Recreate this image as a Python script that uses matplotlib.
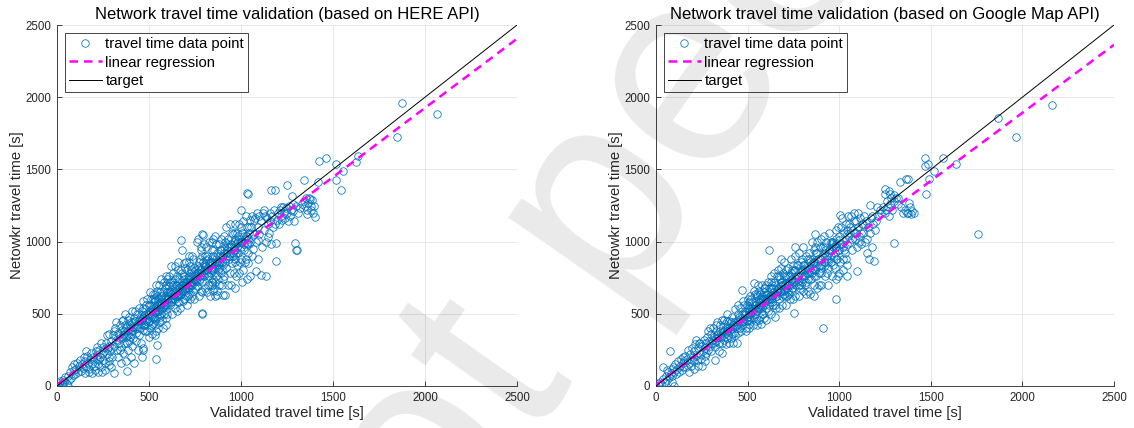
import matplotlib
matplotlib.use("Agg")
import matplotlib.pyplot as plt
import numpy as np

plt.rcParams["font.family"] = ["Liberation Sans", "DejaVu Sans"]

# (validated, network) travel times in seconds
here_points = [
    (5, 0), (10, 20), (15, 35), (25, 10), (30, 45), (40, 25), (45, 60), (55, 15), (60, 70), (65, 40),
    (70, 100), (75, 55), (80, 130), (85, 75), (90, 110), (95, 150), (100, 85), (105, 120), (110, 160), (115, 95),
    (120, 140), (125, 180), (130, 105), (135, 150), (140, 125), (145, 200), (150, 170), (150, 90), (60, 0), (35, 0),
    (155, 240), (160, 130), (165, 210), (170, 160), (175, 120), (180, 190), (185, 230), (190, 150), (195, 200), (200, 175),
    (205, 110), (210, 240), (215, 185), (220, 215), (225, 150), (230, 250), (235, 200), (240, 130), (245, 225), (250, 270),
    (250, 180), (255, 240), (260, 160), (265, 300), (270, 220), (275, 260), (280, 200), (280, 360), (285, 280), (290, 240),
    (295, 310), (300, 260), (300, 200), (190, 90), (225, 100), (260, 110), (270, 350), (240, 300), (205, 140), (175, 95),
    (285, 170), (295, 130), (215, 270), (245, 100), (230, 190),
    (305, 350), (310, 280), (315, 400), (320, 320), (325, 250), (330, 370), (335, 300), (340, 420), (345, 330), (350, 270),
    (355, 390), (360, 350), (365, 300), (370, 500), (370, 420), (375, 340), (380, 380), (385, 460), (390, 310), (395, 400),
    (400, 360), (400, 440), (405, 520), (410, 390), (415, 330), (420, 470), (425, 410), (430, 370), (435, 500), (440, 430),
    (445, 350), (450, 470), (450, 400), (310, 380), (330, 200), (350, 160), (360, 230), (375, 170), (385, 250), (400, 200),
    (410, 280), (420, 160), (430, 310), (440, 250), (445, 540), (360, 460), (320, 440), (390, 480), (455, 300), (460, 200),
    (470, 250), (465, 260), (380, 300), (340, 250), (425, 520), (395, 340), (355, 450), (415, 440), (335, 360), (365, 380),
    (455, 430), (460, 520), (465, 390), (470, 590), (470, 470), (475, 420), (480, 530), (485, 450), (490, 380), (495, 500),
    (500, 560), (500, 450), (505, 400), (510, 600), (510, 480), (515, 530), (520, 430), (525, 580), (525, 470), (530, 510),
    (535, 640), (535, 420), (540, 550), (545, 480), (550, 600), (550, 520), (555, 440), (560, 570), (560, 650), (565, 500),
    (570, 540), (570, 460), (575, 610), (580, 580), (580, 500), (585, 680), (590, 530), (590, 620), (595, 470), (600, 560),
    (600, 650), (600, 740), (480, 380), (490, 600), (520, 640), (540, 380), (555, 700), (575, 400), (590, 420), (505, 650),
    (530, 350), (565, 740), (545, 660), (515, 360), (595, 700), (460, 460), (500, 340), (520, 520), (585, 560), (470, 540),
    (555, 560), (575, 650), (495, 440), (535, 590), (510, 560), (545, 620), (560, 480), (600, 500), (580, 720), (530, 460),
    (485, 560), (565, 620), (590, 760), (550, 400), (510, 420), (540, 700), (475, 490), (520, 600),
    (605, 600), (610, 690), (615, 560), (620, 830), (620, 640), (625, 720), (630, 600), (635, 660), (640, 830), (640, 540),
    (645, 700), (650, 620), (650, 760), (655, 580), (660, 680), (665, 740), (670, 630), (675, 800), (680, 940), (680, 700),
    (685, 590), (690, 760), (695, 660), (700, 720), (700, 620), (705, 800), (710, 680), (715, 750), (720, 640), (725, 830),
    (730, 700), (730, 780), (735, 620), (740, 880), (745, 740), (750, 680), (750, 800), (610, 760), (625, 500), (640, 600),
    (655, 860), (670, 540), (690, 850), (705, 560), (720, 860), (735, 900), (745, 600), (615, 650), (630, 780), (650, 520),
    (660, 800), (675, 700), (685, 660), (695, 820), (710, 620), (715, 900), (725, 720), (740, 660), (630, 700), (660, 620),
    (690, 720), (700, 860), (745, 820), (605, 700), (620, 580), (645, 620), (665, 580), (680, 780), (700, 680), (720, 760),
    (740, 760), (655, 720), (675, 640), (725, 600), (710, 740), (690, 600), (640, 740), (615, 720), (735, 700), (750, 740),
    (755, 760), (760, 1000), (760, 690), (765, 830), (770, 730), (775, 880), (780, 660), (780, 800), (785, 940), (790, 1050),
    (790, 500), (790, 720), (795, 860), (800, 760), (800, 980), (805, 680), (810, 830), (815, 900), (820, 760), (820, 700),
    (825, 1000), (830, 850), (830, 620), (835, 780), (840, 940), (840, 720), (845, 880), (850, 800), (850, 1020), (855, 680),
    (860, 1040), (860, 620), (860, 860), (865, 760), (870, 920), (875, 800), (880, 700), (880, 980), (885, 860), (890, 780),
    (890, 1020), (895, 900), (900, 630), (900, 840), (900, 740), (770, 620), (780, 960), (805, 900), (815, 650), (825, 760),
    (845, 700), (855, 940), (870, 660), (885, 940), (895, 700), (810, 960), (835, 860), (865, 980), (875, 740), (770, 860),
    (800, 840), (820, 880), (850, 740), (880, 820), (760, 780), (790, 900), (840, 1000), (870, 860), (790, 650), (830, 700),
    (850, 660), (895, 800), (775, 760), (815, 800), (860, 720),
    (905, 960), (910, 1040), (910, 760), (915, 880), (920, 1100), (920, 820), (925, 960), (930, 700), (930, 1020), (935, 880),
    (940, 1120), (940, 780), (945, 960), (950, 850), (950, 1060), (955, 920), (960, 780), (960, 1000), (965, 1120), (970, 880),
    (970, 680), (975, 980), (980, 840), (980, 1060), (985, 920), (990, 1120), (990, 780), (995, 1000), (1000, 1220), (1000, 880),
    (1000, 960), (1005, 1060), (1010, 800), (1010, 1140), (1015, 940), (1020, 1020), (1020, 860), (1025, 1180), (1030, 980), (1030, 1100),
    (1035, 740), (1040, 1330), (1040, 920), (1045, 1060), (1050, 760), (1050, 1000), (1050, 1150), (915, 1000), (945, 700), (965, 860),
    (985, 1000), (1005, 720), (1025, 880), (1045, 980), (925, 900), (955, 1050), (975, 760), (995, 860), (935, 960), (1015, 1040),
    (965, 940), (1000, 1100), (1035, 1040), (980, 960), (1040, 850),
    (1055, 1100), (1060, 1180), (1065, 950), (1070, 1050), (1075, 1160), (1080, 1000), (1082, 796), (1085, 1200), (1090, 1100), (1095, 880),
    (1100, 1180), (1100, 1050), (1106, 766), (1110, 1140), (1115, 960), (1120, 1200), (1125, 1080), (1130, 1180), (1135, 762), (1135, 1000),
    (1140, 1160), (1145, 1120), (1150, 1060), (1155, 1200), (1160, 1140), (1164, 1357), (1165, 980), (1170, 1180), (1175, 1100), (1180, 1220),
    (1186, 1357), (1190, 993), (1190, 866), (1195, 1150), (1200, 1200), (1070, 1150), (1095, 1010), (1125, 1220), (1145, 1030), (1185, 1120),
    (1060, 900),
    (1205, 1120), (1210, 1220), (1215, 1240), (1220, 1180), (1225, 1150), (1230, 1240), (1235, 1200), (1240, 1160), (1245, 1230), (1248, 1390),
    (1250, 1200), (1255, 1140), (1260, 1250), (1265, 1180), (1270, 1220), (1277, 1316), (1280, 1260), (1285, 1210), (1290, 1140), (1295, 993),
    (1297, 942), (1300, 1250), (1307, 942), (1310, 1200), (1320, 1230), (1330, 1260), (1340, 1429), (1340, 1280), (1350, 1250), (1355, 1300),
    (1360, 1220), (1365, 1270), (1370, 1300), (1373, 1293), (1379, 1247), (1380, 1220), (1390, 1200), (1395, 1250), (1404, 1170), (1385, 1290),
    (1360, 1190),
    (1416, 1413), (1424, 1558), (1463, 1581), (1515, 1535), (1515, 1424), (1541, 1360), (1556, 1487), (1624, 1549), (1634, 1593), (1849, 1722),
    (1876, 1957), (2067, 1884), (1034, 1339), (790, 508), (546, 282), (540, 185), (380, 104), (308, 92), (283, 143), (868, 628),
    (911, 630), (673, 1011), (766, 1020), (796, 1046),
    # dense core
    (355, 330), (365, 360), (375, 400), (385, 350), (395, 420), (405, 380), (415, 410), (425, 450), (435, 400), (445, 460),
    (455, 450), (465, 480), (475, 460), (485, 500), (495, 470), (505, 520), (515, 490), (525, 540), (535, 510), (545, 560),
    (555, 520), (565, 580), (575, 550), (585, 600), (595, 570), (605, 620), (615, 590), (625, 640), (635, 610), (645, 660),
    (655, 630), (665, 680), (675, 650), (685, 700), (695, 680), (705, 720), (715, 700), (725, 740), (735, 720), (745, 770),
    (755, 730), (765, 790), (775, 740), (785, 810), (795, 770), (805, 830), (815, 780), (825, 850), (835, 800), (845, 860),
    (855, 820), (865, 880), (875, 840), (885, 900), (895, 860), (905, 920), (915, 860), (925, 940), (935, 900), (945, 980),
    (955, 900), (965, 1020), (975, 920), (985, 1040), (995, 940), (1005, 1000), (1015, 980), (1025, 1040), (1035, 990), (1045, 1100),
    (480, 420), (520, 480), (560, 540), (600, 600), (640, 640), (680, 680), (720, 680), (760, 740), (800, 800), (840, 820),
    (880, 860), (920, 920), (960, 940), (1000, 1000), (1040, 1020), (500, 500), (540, 520), (580, 560), (620, 600), (660, 640),
    (700, 700), (740, 720), (780, 780), (820, 820), (860, 840), (900, 900), (940, 920), (980, 1000), (530, 600), (570, 620),
    (610, 660), (650, 700), (690, 740), (730, 800), (770, 820), (810, 870), (850, 900), (890, 940), (930, 980), (970, 1060),
]

google_points = [
    (0, 0), (10, 15), (20, 30), (30, 10), (37, 132), (40, 50), (50, 25), (55, 70), (60, 40), (65, 100),
    (70, 60), (75, 242), (80, 90), (85, 120), (90, 70), (95, 130), (98, 0), (100, 100), (105, 150), (110, 80),
    (115, 120), (120, 170), (125, 100), (130, 140), (135, 190), (140, 110), (145, 160), (150, 200), (150, 130), (90, 30),
    (60, 110),
    (155, 170), (160, 210), (165, 130), (170, 190), (175, 250), (180, 160), (185, 220), (190, 140), (195, 260), (200, 200),
    (205, 170), (210, 240), (215, 290), (220, 210), (225, 180), (230, 260), (235, 300), (240, 220), (245, 190), (250, 280),
    (255, 240), (260, 320), (265, 260), (270, 210), (275, 300), (280, 340), (285, 250), (290, 310), (295, 280), (300, 360),
    (300, 240), (220, 320), (180, 100), (250, 140), (265, 170), (285, 380), (205, 120), (240, 300), (275, 230), (230, 140),
    (195, 180), (295, 400),
    (305, 300), (310, 400), (315, 340), (320, 270), (325, 380), (330, 310), (335, 440), (340, 360), (345, 300), (350, 420),
    (355, 340), (360, 460), (365, 380), (370, 320), (375, 430), (380, 370), (385, 500), (390, 410), (395, 350), (400, 450),
    (405, 390), (410, 330), (415, 480), (420, 420), (425, 370), (430, 530), (435, 450), (440, 400), (445, 500), (450, 430),
    (450, 370), (320, 180), (345, 240), (360, 230), (380, 290), (400, 300), (420, 300), (440, 300), (330, 420), (350, 380),
    (370, 460), (390, 330), (410, 440), (430, 350), (450, 560), (470, 665), (460, 400), (360, 300), (385, 450), (415, 360),
    (455, 480), (460, 540), (465, 420), (470, 500), (475, 590), (480, 450), (485, 520), (490, 400), (495, 560), (500, 480),
    (500, 600), (505, 430), (510, 540), (515, 620), (520, 470), (525, 580), (530, 510), (535, 660), (537, 716), (540, 560),
    (545, 450), (550, 620), (550, 520), (555, 700), (560, 580), (565, 480), (570, 640), (570, 540), (575, 600), (580, 700),
    (580, 500), (585, 560), (590, 650), (595, 600), (600, 540), (600, 700), (600, 620), (470, 440), (490, 380), (510, 400),
    (530, 420), (550, 420), (560, 460), (575, 430), (590, 470), (600, 460), (480, 560), (500, 540), (520, 600), (540, 640),
    (560, 660), (580, 620), (595, 680), (465, 380), (505, 500), (525, 520), (545, 580), (565, 560), (585, 500), (555, 540),
    (535, 480), (515, 460), (495, 460), (615, 942),
    (605, 640), (610, 720), (615, 560), (620, 680), (625, 760), (630, 600), (635, 700), (640, 650), (645, 780), (650, 560),
    (650, 700), (655, 620), (660, 760), (665, 680), (670, 600), (675, 740), (680, 820), (685, 660), (690, 720), (695, 780),
    (700, 640), (700, 860), (705, 700), (710, 760), (715, 620), (720, 820), (725, 700), (730, 760), (735, 880), (740, 660),
    (745, 800), (750, 720), (753, 503), (759, 965), (610, 520), (630, 500), (650, 480), (670, 540), (690, 560), (710, 560),
    (730, 600), (750, 600), (620, 620), (640, 560), (660, 660), (680, 700), (700, 760), (720, 660), (740, 740), (625, 680),
    (645, 720), (665, 800), (685, 880), (705, 620), (725, 640), (745, 680), (635, 580), (655, 540), (675, 660), (695, 700),
    (715, 700), (735, 780), (610, 600), (690, 620),
    (755, 800), (760, 900), (765, 700), (770, 840), (775, 760), (780, 920), (785, 680), (790, 800), (795, 880), (800, 740),
    (805, 960), (810, 840), (815, 700), (820, 900), (825, 780), (830, 660), (835, 920), (840, 860), (845, 740), (850, 1000),
    (855, 820), (860, 700), (865, 940), (867, 1050), (870, 860), (875, 760), (880, 1000), (885, 880), (890, 700), (895, 960),
    (900, 820), (900, 1020), (760, 620), (780, 620), (800, 660), (820, 640), (840, 640), (860, 620), (880, 680), (900, 700),
    (770, 740), (790, 700), (810, 760), (830, 740), (850, 780), (870, 800), (890, 780), (775, 840), (795, 720), (815, 800),
    (835, 780), (855, 860), (875, 920), (895, 880), (905, 840),
    (910, 960), (914, 399), (915, 1040), (920, 860), (925, 760), (930, 1000), (935, 900), (940, 820), (945, 1060), (950, 940),
    (955, 860), (960, 760), (965, 1000), (970, 900), (975, 820), (980, 1080), (983, 602), (985, 960), (990, 880), (995, 760),
    (1000, 1040), (1000, 940), (1005, 860), (1010, 1100), (1015, 980), (1020, 800), (1025, 1060), (1030, 920), (1035, 1120), (1040, 980),
    (1045, 840), (1050, 1040), (1050, 1180), (920, 940), (940, 700), (960, 980), (980, 740), (1000, 780), (1020, 880), (1040, 760),
    (925, 840), (945, 920), (965, 840), (985, 1020), (1005, 980), (1025, 940), (1045, 1080), (935, 780), (955, 1000), (975, 960),
    (995, 1100), (1015, 1160), (1035, 880), (1004, 1182),
    (1055, 1120), (1060, 1000), (1065, 1180), (1070, 940), (1075, 1080), (1080, 1200), (1085, 1020), (1090, 1140), (1095, 960), (1099, 796),
    (1100, 1100), (1105, 1200), (1110, 1040), (1115, 1160), (1120, 980), (1125, 1120), (1130, 1060), (1135, 1180), (1140, 1000), (1145, 1140),
    (1150, 920), (1155, 1100), (1161, 882), (1167, 1256), (1170, 1060), (1175, 1160), (1180, 960), (1185, 1120), (1191, 866), (1195, 1080),
    (1200, 1140), (1210, 1180), (1220, 1220), (1230, 1200), (1240, 1240), (1250, 1332), (1250, 1362), (1250, 1200), (1060, 1100), (1090, 1060),
    (1120, 1060), (1150, 1020), (1180, 1180), (1070, 1020), (1130, 1120), (1110, 1000), (1080, 1140), (1205, 1240),
    (1255, 1220), (1260, 1280), (1265, 1240), (1270, 1180), (1276, 1332), (1280, 1260), (1285, 1300), (1290, 1220), (1299, 988), (1300, 1280),
    (1310, 1300), (1320, 1260), (1333, 1415), (1340, 1240), (1350, 1200), (1360, 1220), (1364, 1436), (1370, 1200), (1378, 1431), (1378, 1200),
    (1382, 1265), (1385, 1240), (1390, 1190), (1400, 1210), (1407, 1200), (1270, 1350), (1300, 1320), (1320, 1300),
    (1466, 1524), (1470, 1581), (1474, 1332), (1482, 1535), (1492, 1431), (1519, 1487), (1566, 1581), (1639, 1535), (1759, 1055), (1865, 1854),
    (1967, 1727), (2160, 1946),
    # dense core
    (305, 320), (315, 300), (325, 330), (335, 350), (345, 340), (355, 370), (365, 350), (375, 390), (385, 380), (395, 400),
    (405, 410), (415, 400), (425, 440), (435, 420), (445, 460), (455, 440), (465, 470), (475, 460), (485, 490), (495, 480),
    (505, 520), (515, 500), (525, 540), (535, 530), (545, 560), (555, 550), (565, 580), (575, 560), (585, 600), (595, 580),
    (605, 610), (615, 600), (625, 630), (635, 620), (645, 650), (655, 640), (665, 670), (675, 650), (685, 690), (695, 670),
    (705, 710), (715, 680), (725, 720), (735, 700), (745, 740), (755, 720), (765, 760), (775, 730), (785, 780), (795, 760),
    (805, 800), (815, 770), (825, 820), (835, 800), (845, 840), (855, 800), (865, 860), (875, 830), (885, 880), (895, 840),
    (905, 900), (915, 860), (925, 920), (935, 880), (945, 940), (955, 900), (965, 960), (975, 920), (985, 980), (995, 940),
    (480, 500), (520, 540), (560, 600), (600, 640), (640, 680), (680, 720), (720, 760), (760, 800), (800, 840), (840, 880),
    (880, 920), (920, 960), (960, 1000), (1000, 1010), (1040, 1050), (500, 460), (540, 500), (580, 540), (620, 580), (660, 620),
    (700, 660), (740, 680), (780, 700), (820, 720), (860, 760), (900, 780), (940, 860), (980, 880), (1020, 960), (1060, 1060),
    (510, 580), (550, 640), (590, 680), (630, 720), (670, 760), (710, 800), (750, 840), (790, 860), (830, 880), (870, 960),
]

# linear regression (slope, intercept)
here_fit = (0.958, 10)
google_fit = (0.942, 8)

ticks = [0, 500, 1000, 1500, 2000, 2500]
titles = [
    "Network travel time validation (based on HERE API)",
    "Network travel time validation (based on Google Map API)",
]

DARK = "#262626"

fig = plt.figure(figsize=(11.34, 4.28), dpi=100)
ax_here = fig.add_axes([57 / 1134, 42 / 428, 460 / 1134, 361 / 428])
ax_google = fig.add_axes([656 / 1134, 42 / 428, 458 / 1134, 361 / 428])

for ax, pts, fit, title in [
    (ax_here, here_points, here_fit, titles[0]),
    (ax_google, google_points, google_fit, titles[1]),
]:
    x, y = np.array(pts, dtype=float).T
    ax.plot(x, y, "o", ms=5.4, mfc="none", mec="#0072BD", mew=0.55,
            label="travel time data point", zorder=3)
    xs = np.array([0, 2500])
    slope, intercept = fit
    ax.plot(xs, slope * xs + intercept, color="#FF00FF", lw=1.8,
            dashes=(3.4, 2.4), label="linear regression", zorder=4)
    ax.plot(xs, xs, color="black", lw=0.7, label="target", zorder=5)

    ax.set_xlim(0, 2500)
    ax.set_ylim(0, 2500)
    ax.set_xticks(ticks)
    ax.set_yticks(ticks)
    ax.grid(True, color="#e3e3e3", lw=0.6)
    ax.set_axisbelow(True)
    for side in ("top", "right"):
        ax.spines[side].set_visible(False)
    for side in ("left", "bottom"):
        ax.spines[side].set_color(DARK)
        ax.spines[side].set_linewidth(0.6)
    ax.tick_params(direction="in", length=3.5, width=0.6, colors=DARK,
                   labelsize=8.3, pad=4)

    ax.set_title(title, fontsize=12, color="black", pad=4)
    ax.set_xlabel("Validated travel time [s]", fontsize=10.7, color=DARK, labelpad=2)
    ax.set_ylabel("Netowkr travel time [s]", fontsize=10.7, color=DARK, labelpad=1)

    leg = ax.legend(loc="upper left", fontsize=10.7, fancybox=False,
                    edgecolor=DARK, framealpha=1, borderaxespad=0.55,
                    handlelength=2.2, handletextpad=0.25, labelspacing=0.32,
                    borderpad=0.25)
    leg.get_frame().set_linewidth(0.6)

# diagonal preprint watermark
fig.text(686 / 1134, 1 - 222 / 428, "Preprint not peer reviewed",
         fontsize=200, rotation=55, rotation_mode="anchor",
         ha="center", va="baseline", color="black", alpha=0.085, zorder=10)

fig.savefig("out.png", dpi=100)
